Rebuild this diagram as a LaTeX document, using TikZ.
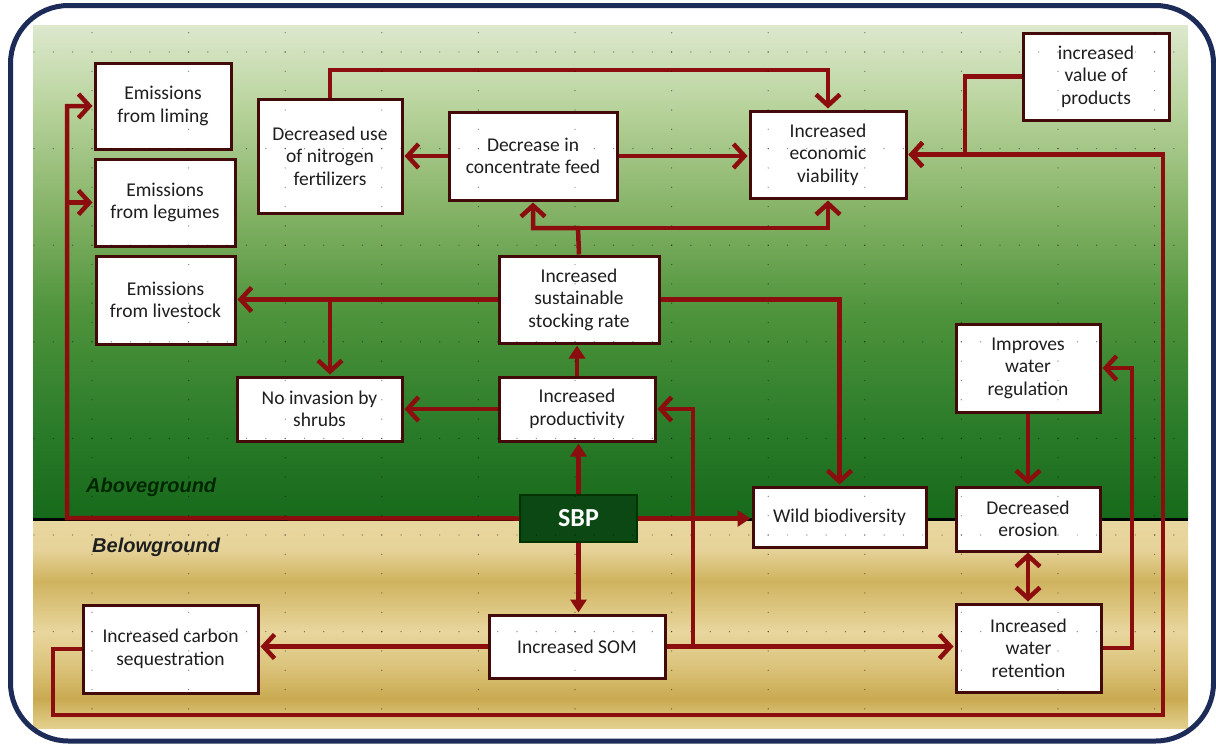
\documentclass[tikz,border=0pt]{standalone}
\usepackage{fontspec}
\setmainfont{Carlito}
\newfontfamily\groundfont{Liberation Sans}
\usepackage{tikz}
\usetikzlibrary{arrows.meta}
\definecolor{linkred}{HTML}{8B0D0D}
\definecolor{boxedge}{HTML}{430A0A}
\definecolor{frameblue}{HTML}{1D2B58}
\definecolor{txt}{HTML}{1E1E1E}
\definecolor{sbpgreen}{HTML}{0B4813}
\definecolor{g0}{HTML}{176A1B}
\definecolor{g1}{HTML}{2A7B29}
\definecolor{g2}{HTML}{4F943C}
\definecolor{g3}{HTML}{84B266}
\definecolor{g4}{HTML}{B5D198}
\definecolor{g5}{HTML}{DDE8CD}
\definecolor{t0}{HTML}{E3D08E}
\definecolor{t1}{HTML}{C9AA52}
\definecolor{t2}{HTML}{DCC47C}
\definecolor{t3}{HTML}{E8D69E}
\definecolor{t4}{HTML}{CFB35E}
\definecolor{t5}{HTML}{E6D399}
\definecolor{t6}{HTML}{E8D7A0}
% the path is mapped onto 25bp--75bp of the shading
\pgfdeclareverticalshading{abovebg}{100bp}{color(0bp)=(g0); color(25bp)=(g0); color(34bp)=(g1); color(46bp)=(g2); color(56bp)=(g3); color(66bp)=(g4); color(75bp)=(g5); color(100bp)=(g5)}
\pgfdeclareverticalshading{belowbg}{100bp}{color(0bp)=(t0); color(25bp)=(t0); color(32bp)=(t1); color(40bp)=(t2); color(48bp)=(t3); color(60bp)=(t4); color(67.5bp)=(t5); color(75bp)=(t6); color(100bp)=(t6)}

\begin{document}
\begin{tikzpicture}[x=1pt,y=-1pt,
    box/.style 2 args={draw=boxedge,line width=3pt,fill=white,text=txt,align=center,
      inner sep=2pt,minimum width=#1,minimum height=#2,
      font=\fontsize{19.5}{22.5}\selectfont},
    link/.style={draw=linkred,line width=4.5pt,shorten >=1pt,-{Straight Barb[length=11pt,width=24pt]}},
    linkt/.style={link,-{Triangle[length=13pt,width=16pt]}},
    both/.style={link,{Straight Barb[length=11pt,width=24pt]}-{Straight Barb[length=11pt,width=24pt]}},
    ground/.style={anchor=west,inner sep=0pt,font=\groundfont\bfseries\itshape\fontsize{20}{24}\selectfont},
    gdot/.style={fill=black,opacity=.45}]
  \useasboundingbox (0,0) rectangle (1216,744);

  % background: above and below ground
  \shade[shading=abovebg] (33,25) rectangle (1188,518);
  \shade[shading=belowbg] (33,518) rectangle (1188,728);
  \draw[line width=3pt] (33,519.5) -- (1188,519.5);
  \draw[frameblue,line width=5pt,rounded corners=58pt] (10.5,5.5) rectangle (1213.5,741);

  \node[ground,text=black!85!green] (above) at (86,487) {Aboveground};
  \node[ground,text=black!88] (below) at (92,547) {Belowground};

  % boxes
  \node[box={136pt}{86pt}] (E_lim) at (163,106) {Emissions\\from liming};
  \node[box={140pt}{87pt}] (E_leg) at (165,202.5) {Emissions\\from legumes};
  \node[box={139pt}{88pt}] (E_liv) at (165.5,300) {Emissions\\from livestock};
  \node[box={144pt}{114pt}] (N_fert) at (330,156) {Decreased use\\of nitrogen\\fertilizers};
  \node[box={168pt}{88pt}] (C_feed) at (533,156) {Decrease in\\concentrate feed};
  \node[box={156pt}{87pt}] (E_viab) at (828,154.5) {Increased\\economic\\viability};
  \node[box={146pt}{87pt}] (V_prod) at (1096,76.5) {increased\\value of\\products};
  \node[box={160pt}{87pt}] (S_rate) at (579,299.5) {Increased\\sustainable\\stocking rate};
  \node[box={156pt}{64pt}] (Prod) at (577,409) {Increased\\productivity};
  \node[box={165pt}{64pt}] (Shrubs) at (319.5,409) {No invasion by\\shrubs};
  \node[box={173pt}{60pt}] (W_bio) at (839.5,517) {Wild biodiversity};
  \node[box={144pt}{88pt}] (W_reg) at (1028,368) {Improves\\water\\regulation};
  \node[box={144pt}{64pt}] (Erosion) at (1028,519) {Decreased\\erosion};
  \node[box={145pt}{88pt}] (W_ret) at (1028.5,648) {Increased\\water\\retention};
  \node[box={176pt}{63pt}] (SOM) at (577,646.5) {Increased SOM};
  \node[box={175pt}{88pt}] (C_seq) at (170.5,649) {Increased carbon\\sequestration};
  \node[draw=black!80!green,line width=1.5pt,fill=sbpgreen,text=white,
    minimum width=117pt,minimum height=47pt,
    font=\bfseries\fontsize{26}{30}\selectfont] (SBP) at (578.5,518.5) {SBP};

  % bend points
  \coordinate (bl) at (67,518);
  \coordinate (sh) at (330,300);
  \coordinate (sj) at (578,228);
  \coordinate (nt) at (330,70);
  \coordinate (vp) at (965,76.5);
  \coordinate (lp1) at (53,715);
  \coordinate (lp2) at (1163,715);
  \coordinate (sp) at (693,646.5);
  \coordinate (rr) at (1132,648);

  % connectors
  \draw[link] (SBP.west) -- (bl) |- (E_lim.west);
  \draw[link] (bl |- E_leg.west) -- (E_leg.west);
  \draw[linkt] (SBP.east) -- (SBP.east -| W_bio.west);
  \draw[linkt] (SBP.north) -- (SBP.north |- Prod.south);
  \draw[linkt] (SBP.south) -- (SBP.south |- SOM.north);
  \draw[linkt] (Prod.north) -- (Prod.north |- S_rate.south);
  \draw[link] (Prod.west) -- (Shrubs.east);
  \draw[link] (S_rate.west) -- (S_rate.west -| E_liv.east);
  \draw[link] (sh) -- (sh |- Shrubs.north);
  \draw[link] (S_rate.east) -| (W_bio.north);
  \draw[link] (S_rate.north) -- (sj) -| (C_feed.south);
  \draw[link] (sj) -| (E_viab.south);
  \draw[link] (C_feed.west) -- (C_feed.west -| N_fert.east);
  \draw[link] (C_feed.east) -- (C_feed.east -| E_viab.west);
  \draw[link] (N_fert.north) -- (nt) -| (E_viab.north);
  \draw[link] (V_prod.west) -- (vp) |- (E_viab.east);
  \draw[link] (C_seq.west) -| (lp1) -- (lp2) |- (E_viab.east);
  \draw[link] (SOM.west) -- (SOM.west -| C_seq.east);
  \draw[link] (SOM.east) -- (SOM.east -| W_ret.west);
  \draw[link] (sp) |- (Prod.east);
  \draw[link] (W_ret.east) -- (rr) |- (W_reg.east);
  \draw[link] (W_reg.south) -- (Erosion.north);
  \draw[both] (Erosion.south) -- (Erosion.south |- W_ret.north);

  % grid dots
  \foreach \k in {0,...,11}
    \foreach \i in {0,...,35}
      \fill[gdot] ({92+96.6*\k},{32.7+19.32*\i}) circle (0.7pt);
  \foreach \k in {0,...,6}
    \foreach \i in {0,...,59}
      \fill[gdot] ({34+19.32*\i},{52+96.6*\k}) circle (0.7pt);
\end{tikzpicture}
\end{document}
